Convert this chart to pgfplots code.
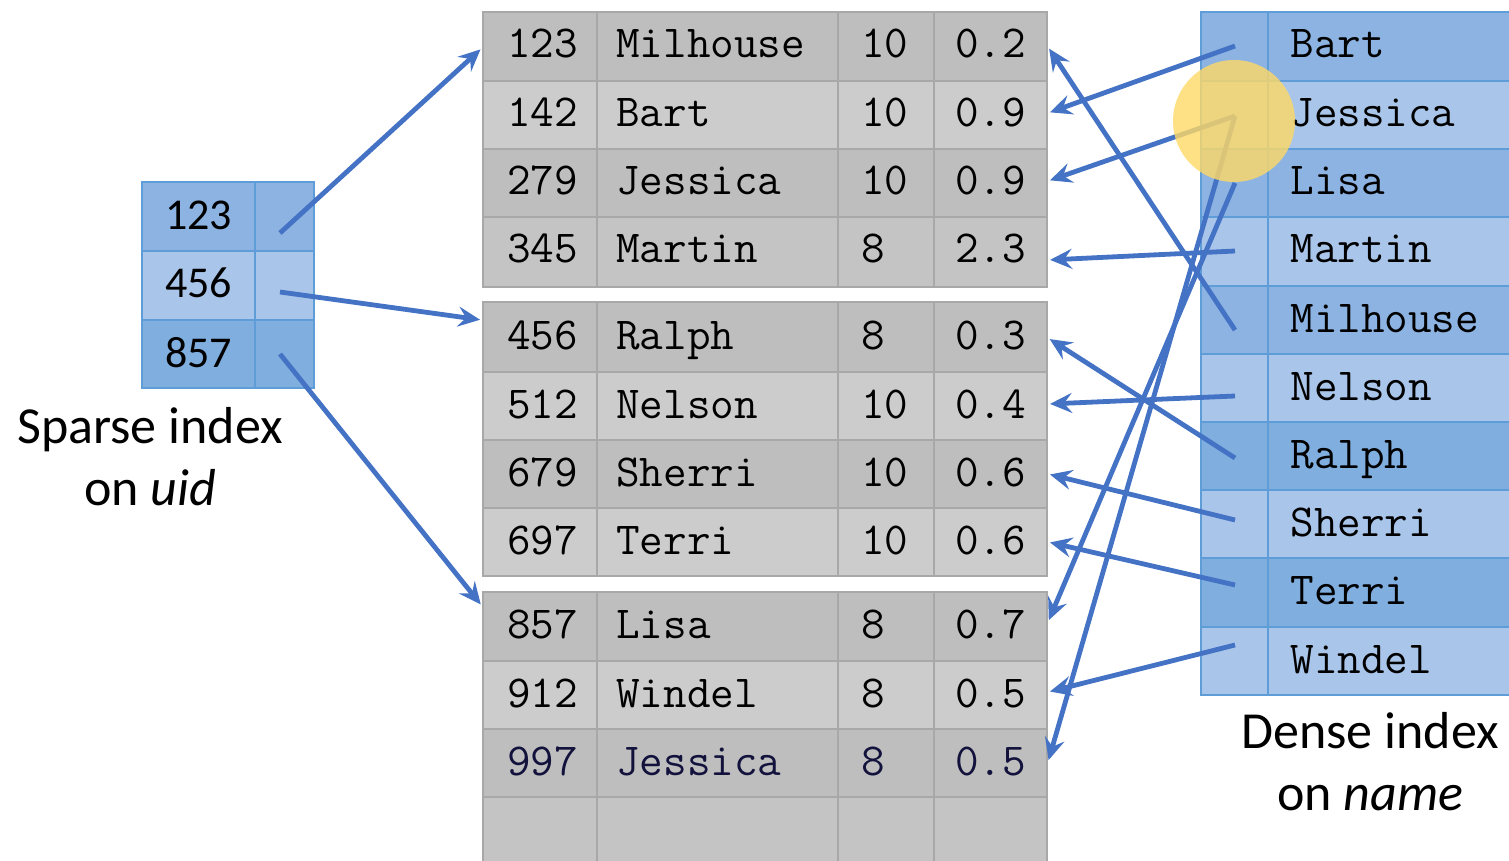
\documentclass[border=0pt]{standalone}
\usepackage{fontspec}
\setmainfont{Carlito}
\usepackage{pgfplots}
\pgfplotsset{compat=1.18}
\usetikzlibrary{arrows.meta}
\definecolor{ln}{HTML}{4472C4}
\definecolor{gD}{HTML}{BEBEBE}
\definecolor{gL}{HTML}{CCCCCC}
\definecolor{gM}{HTML}{C4C4C4}
\definecolor{gG}{HTML}{A8A8A8}
\definecolor{bD}{HTML}{8CB3E1}
\definecolor{bE}{HTML}{80AEDF}
\definecolor{bL}{HTML}{A9C5E9}
\definecolor{bG}{HTML}{5E9DD8}
\definecolor{yc}{HTML}{FFD966}
\definecolor{nv}{HTML}{12123C}
\begin{document}
\begin{tikzpicture}[
  tt/.style={anchor=base west, inner sep=0pt, font=\fontsize{22.9}{26}\selectfont\ttfamily},
  arr/.style={ln, line width=2.4pt, -{Stealth[length=11pt,width=10pt,inset=4pt]}, mark=none, shorten >=1pt}]
\begin{axis}[scale only axis, width=754.5pt, height=430.5pt,
  xmin=0, xmax=1509, ymin=0, ymax=861, y dir=reverse, hide axis, clip=true]
% ---------- middle table ----------
\fill[gD] (483,12) rectangle (1047,81);
\fill[gL] (483,81) rectangle (1047,149);
\fill[gD] (483,149) rectangle (1047,217);
\fill[gM] (483,217) rectangle (1047,287);
\fill[gD] (483,302) rectangle (1047,372);
\fill[gL] (483,372) rectangle (1047,440);
\fill[gD] (483,440) rectangle (1047,508);
\fill[gL] (483,508) rectangle (1047,576);
\fill[gD] (483,592) rectangle (1047,661);
\fill[gL] (483,661) rectangle (1047,729);
\fill[gD] (483,729) rectangle (1047,797);
\fill[gM] (483,797) rectangle (1047,861);
\begin{scope}[gG, line width=1pt]
\draw (483,12) rectangle (1047,287);
\draw (483,81) -- (1047,81) (483,149) -- (1047,149) (483,217) -- (1047,217);
\draw (597,12) -- (597,287) (838,12) -- (838,287) (934,12) -- (934,287);
\draw (483,302) rectangle (1047,576);
\draw (483,372) -- (1047,372) (483,440) -- (1047,440) (483,508) -- (1047,508);
\draw (597,302) -- (597,576) (838,302) -- (838,576) (934,302) -- (934,576);
\draw (483,861) -- (483,592) -- (1047,592) -- (1047,861);
\draw (483,661) -- (1047,661) (483,729) -- (1047,729) (483,797) -- (1047,797);
\draw (597,592) -- (597,861) (838,592) -- (838,861) (934,592) -- (934,861);
\end{scope}
% texts block 1
\node[tt] at (507,58) {123}; \node[tt] at (616,58) {Milhouse}; \node[tt] at (861,58) {10}; \node[tt] at (955,58) {0.2};
\node[tt] at (507,127) {142}; \node[tt] at (616,127) {Bart}; \node[tt] at (861,127) {10}; \node[tt] at (955,127) {0.9};
\node[tt] at (507,195) {279}; \node[tt] at (616,195) {Jessica}; \node[tt] at (861,195) {10}; \node[tt] at (955,195) {0.9};
\node[tt] at (507,263) {345}; \node[tt] at (616,263) {Martin}; \node[tt] at (861,263) {8}; \node[tt] at (955,263) {2.3};
% block 2
\node[tt] at (507,349) {456}; \node[tt] at (616,349) {Ralph}; \node[tt] at (861,349) {8}; \node[tt] at (955,349) {0.3};
\node[tt] at (507,418) {512}; \node[tt] at (616,418) {Nelson}; \node[tt] at (861,418) {10}; \node[tt] at (955,418) {0.4};
\node[tt] at (507,486) {679}; \node[tt] at (616,486) {Sherri}; \node[tt] at (861,486) {10}; \node[tt] at (955,486) {0.6};
\node[tt] at (507,554) {697}; \node[tt] at (616,554) {Terri}; \node[tt] at (861,554) {10}; \node[tt] at (955,554) {0.6};
% block 3
\node[tt] at (507,638) {857}; \node[tt] at (616,638) {Lisa}; \node[tt] at (861,638) {8}; \node[tt] at (955,638) {0.7};
\node[tt] at (507,707) {912}; \node[tt] at (616,707) {Windel}; \node[tt] at (861,707) {8}; \node[tt] at (955,707) {0.5};
\node[tt,nv] at (507,775) {997}; \node[tt,nv] at (616,775) {Jessica}; \node[tt,nv] at (861,775) {8}; \node[tt,nv] at (955,775) {0.5};
% ---------- sparse index ----------
\fill[bD] (142,182) rectangle (314,251);
\fill[bL] (142,251) rectangle (314,320);
\fill[bE] (142,320) rectangle (314,388);
\begin{scope}[bG, line width=0.8pt]
\draw (142,182) rectangle (314,388);
\draw (142,251) -- (314,251) (142,320) -- (314,320) (255,182) -- (255,388);
\end{scope}
\begin{scope}[every node/.style={anchor=base, inner sep=0pt, font=\fontsize{22}{26}\selectfont}]
\node at (198.5,230) {123};
\node at (198.5,298) {456};
\node at (198.5,367) {857};
\end{scope}
% ---------- dense index ----------
\fill[bD] (1201,12) rectangle (1509,81);
\fill[bL] (1201,81) rectangle (1509,149);
\fill[bD] (1201,149) rectangle (1509,217);
\fill[bL] (1201,217) rectangle (1509,286);
\fill[bD] (1201,286) rectangle (1509,354);
\fill[bL] (1201,354) rectangle (1509,422);
\fill[bE] (1201,422) rectangle (1509,490);
\fill[bL] (1201,490) rectangle (1509,558);
\fill[bE] (1201,558) rectangle (1509,627);
\fill[bL] (1201,627) rectangle (1509,695);
\begin{scope}[bG, line width=0.8pt]
\draw (1509,12) -- (1201,12) -- (1201,695) -- (1509,695);
\draw (1201,81) -- (1509,81) (1201,149) -- (1509,149) (1201,217) -- (1509,217) (1201,286) -- (1509,286) (1201,354) -- (1509,354);
\draw (1201,422) -- (1509,422) (1201,490) -- (1509,490) (1201,558) -- (1509,558) (1201,627) -- (1509,627);
\draw (1268,12) -- (1268,695);
\end{scope}
\node[tt] at (1290,58) {Bart};
\node[tt] at (1290,127) {Jessica};
\node[tt] at (1290,195) {Lisa};
\node[tt] at (1290,263) {Martin};
\node[tt] at (1290,332) {Milhouse};
\node[tt] at (1290,400) {Nelson};
\node[tt] at (1290,468) {Ralph};
\node[tt] at (1290,536) {Sherri};
\node[tt] at (1290,604) {Terri};
\node[tt] at (1290,673) {Windel};
% ---------- arrows ----------
\addplot[arr] coordinates {(280,233) (482,48)};
\addplot[arr] coordinates {(280,292) (482,320)};
\addplot[arr] coordinates {(280,354) (482,606)};
\addplot[arr] coordinates {(1235,46) (1048,113)};
\addplot[arr] coordinates {(1235,116) (1048,181)};
\addplot[arr] coordinates {(1235,116) (1048,762)};
\addplot[arr] coordinates {(1235,183) (1048,622)};
\addplot[arr] coordinates {(1235,251) (1048,260)};
\addplot[arr] coordinates {(1235,330) (1048,47)};
\addplot[arr] coordinates {(1235,396) (1048,404)};
\addplot[arr] coordinates {(1235,458) (1048,338)};
\addplot[arr] coordinates {(1235,520) (1048,474)};
\addplot[arr] coordinates {(1235,585) (1048,542)};
\addplot[arr] coordinates {(1235,645) (1048,692)};
% ---------- highlight ----------
\fill[yc, opacity=0.8] (1234,121) circle[radius=30.5pt];
% ---------- labels ----------
\begin{scope}[every node/.style={anchor=base, inner sep=0pt, font=\fontsize{26}{30}\selectfont}]
\node at (150,443) {Sparse index};
\node at (150,505) {on \textit{uid}};
\node at (1370,748) {Dense index};
\node at (1370,810) {on \textit{name}};
\end{scope}
\end{axis}
\pgfresetboundingbox
\path (current axis.south west) rectangle (current axis.north east);
\end{tikzpicture}
\end{document}
